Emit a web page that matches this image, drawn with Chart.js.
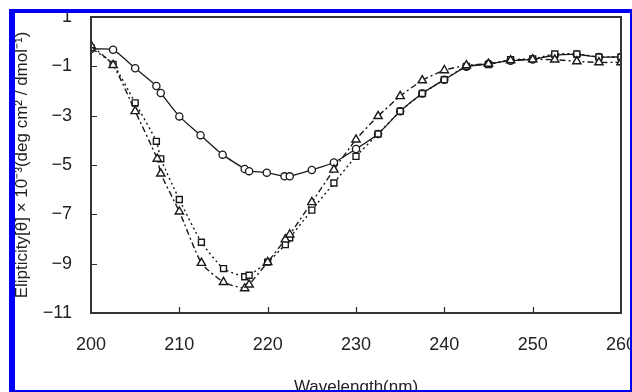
<!DOCTYPE html>
<html>
<head>
<meta charset="utf-8">
<script src="https://cdn.jsdelivr.net/npm/chart.js@4/dist/chart.umd.min.js"></script>
<style>
  html, body { margin: 0; padding: 0; background: #ffffff; }
  canvas { display: block; }
</style>
</head>
<body>
<canvas id="c" width="632" height="392"></canvas>
<script>
// Wavelength (nm) for each series
const wlCircle = [200, 202.5, 205, 207.4, 207.9, 210, 212.4, 214.9, 217.4, 217.9, 219.9, 221.9, 222.5, 225, 227.5, 230, 232.5, 235, 237.5, 240, 242.5, 245, 247.5, 250, 252.5, 255, 257.5, 260];
const ellCircle = [-0.3, -0.33, -1.08, -1.8, -2.08, -3.03, -3.79, -4.58, -5.16, -5.25, -5.31, -5.46, -5.46, -5.2, -4.9, -4.35, -3.74, -2.82, -2.1, -1.54, -1.02, -0.9, -0.77, -0.72, -0.55, -0.52, -0.62, -0.62];

const wlSquare = [200, 202.5, 205, 207.4, 207.9, 210, 212.5, 215, 217.4, 217.9, 220, 222, 222.5, 225, 227.5, 230, 232.5, 235, 237.5, 240, 242.5, 245, 247.5, 250, 252.5, 255, 257.5, 260];
const ellSquare = [-0.25, -0.92, -2.48, -4.04, -4.75, -6.4, -8.13, -9.2, -9.53, -9.47, -8.94, -8.23, -7.95, -6.83, -5.73, -4.65, -3.74, -2.82, -2.1, -1.54, -1.0, -0.93, -0.73, -0.7, -0.5, -0.5, -0.62, -0.62];

const wlTriangle = [200, 202.5, 205, 207.5, 207.9, 210, 212.5, 215, 217.4, 217.9, 220, 222, 222.5, 225, 227.5, 230, 232.5, 235, 237.5, 240, 242.5, 245, 247.5, 250, 252.5, 255, 257.5, 260];
const ellTriangle = [-0.15, -0.95, -2.82, -4.75, -5.35, -6.89, -8.97, -9.75, -10.0, -9.85, -8.94, -8.02, -7.82, -6.51, -5.19, -3.97, -3.02, -2.21, -1.57, -1.16, -0.96, -0.9, -0.76, -0.72, -0.73, -0.8, -0.84, -0.84];

const xTicks = [200, 210, 220, 230, 240, 250, 260];
const yTicks = [1, -1, -3, -5, -7, -9, -11];

const xTitle = 'Wavelength(nm)';
const yTitle = 'Elipticity[θ] × 10⁻³(deg cm² / dmol⁻¹)';

function pts(xs, ys) { return xs.map((x, i) => ({ x: x, y: ys[i] })); }

const ink = '#1a1a1a';

const framePlugin = {
  id: 'framePlugin',
  afterDraw(chart) {
    const ctx = chart.ctx;
    const a = chart.chartArea;
    const xs = chart.scales.x, ys = chart.scales.y;
    ctx.save();
    ctx.strokeStyle = '#2a2a2a';
    ctx.lineWidth = 1.2;
    // inward tick marks
    ctx.beginPath();
    xTicks.forEach(v => {
      if (v === xs.min || v === xs.max) return;
      const px = Math.round(xs.getPixelForValue(v)) + 0.5;
      ctx.moveTo(px, a.bottom);
      ctx.lineTo(px, a.bottom - 6);
    });
    yTicks.forEach(v => {
      if (v === ys.min || v === ys.max) return;
      const py = Math.round(ys.getPixelForValue(v)) + 0.5;
      ctx.moveTo(a.left, py);
      ctx.lineTo(a.left + 6, py);
    });
    ctx.stroke();
    // plot box
    ctx.lineWidth = 2;
    ctx.strokeStyle = '#333333';
    ctx.strokeRect(a.left, a.top, a.right - a.left, a.bottom - a.top);
    // outer blue frame
    ctx.fillStyle = '#ffffff';
    ctx.fillRect(0, 0, 632, 9);
    ctx.fillRect(0, 0, 9, 392);
    ctx.fillStyle = 'rgb(0,0,245)';
    ctx.fillRect(9, 9, 623, 4);
    ctx.fillRect(9, 9, 6, 383);
    ctx.fillRect(630, 9, 2, 383);
    ctx.fillRect(9, 390, 623, 2);
    ctx.restore();
  }
};

new Chart(document.getElementById('c'), {
  type: 'scatter',
  data: {
    datasets: [
      {
        label: 'circle',
        data: pts(wlCircle, ellCircle),
        showLine: true,
        borderColor: ink,
        borderWidth: 1.3,
        tension: 0.2,
        pointStyle: 'circle',
        pointRadius: 3.6,
        pointBackgroundColor: '#ffffff',
        pointBorderColor: ink,
        pointBorderWidth: 1.3,
        order: 3
      },
      {
        label: 'square',
        data: pts(wlSquare, ellSquare),
        showLine: true,
        borderColor: ink,
        borderWidth: 1.4,
        borderDash: [2, 3],
        tension: 0.2,
        pointStyle: 'rect',
        pointRadius: 4.2,
        pointBackgroundColor: '#ffffff',
        pointBorderColor: ink,
        pointBorderWidth: 1.4,
        order: 2
      },
      {
        label: 'triangle',
        data: pts(wlTriangle, ellTriangle),
        showLine: true,
        borderColor: ink,
        borderWidth: 1.4,
        borderDash: [6, 3, 2, 3],
        tension: 0.2,
        pointStyle: 'triangle',
        pointRadius: 4.8,
        pointBackgroundColor: '#ffffff',
        pointBorderColor: ink,
        pointBorderWidth: 1.4,
        order: 1
      }
    ]
  },
  options: {
    responsive: false,
    animation: false,
    events: [],
    layout: { padding: { left: 0, top: 17, right: 11, bottom: 0 } },
    plugins: { legend: { display: false }, tooltip: { enabled: false } },
    scales: {
      x: {
        type: 'linear',
        min: 200, max: 260,
        afterBuildTicks: s => { s.ticks = xTicks.map(v => ({ value: v })); },
        afterFit: s => { s.height = 79; s.paddingLeft = 0; s.paddingRight = 0; },
        grid: { display: false, drawTicks: false },
        border: { display: false },
        ticks: {
          font: { family: 'Liberation Sans, Arial, sans-serif', size: 18 },
          color: '#222222',
          padding: 21,
          maxRotation: 0,
          autoSkip: false
        },
        title: {
          display: true,
          text: xTitle,
          font: { family: 'Liberation Sans, Arial, sans-serif', size: 17 },
          color: '#222222',
          padding: { top: 0, bottom: -6 }
        }
      },
      y: {
        type: 'linear',
        min: -11, max: 1,
        afterBuildTicks: s => { s.ticks = yTicks.map(v => ({ value: v })); },
        afterFit: s => { s.width = 91; s.paddingTop = 0; s.paddingBottom = 0; },
        grid: { display: false, drawTicks: false },
        border: { display: false },
        ticks: {
          font: { family: 'Liberation Sans, Arial, sans-serif', size: 18 },
          color: '#222222',
          padding: 19,
          callback: v => String(v).replace('-', '\u2212')
        },
        title: {
          display: true,
          text: yTitle,
          font: { family: 'Liberation Sans, Arial, sans-serif', size: 17 },
          color: '#222222',
          padding: { top: 12, bottom: 0 }
        }
      }
    }
  },
  plugins: [framePlugin]
});
</script>
</body>
</html>
